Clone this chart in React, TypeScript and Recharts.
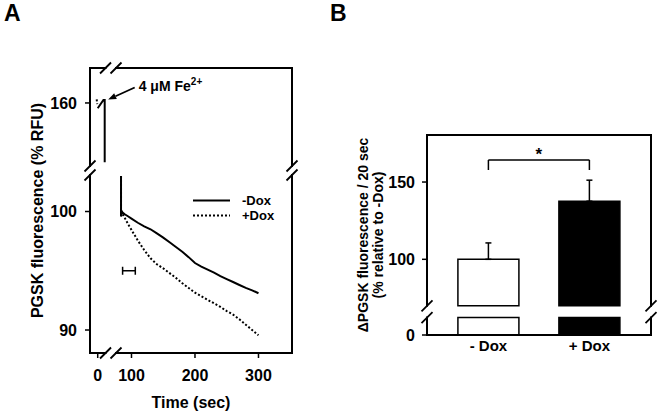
import {
  Bar,
  Cell,
  ComposedChart,
  ErrorBar,
  Legend,
  Line,
  ReferenceDot,
  ReferenceLine,
  Scatter,
  XAxis,
  YAxis,
} from "recharts";

const FONT = '"Liberation Sans", Arial, Helvetica, sans-serif';
const INK = "#000";

// ---------- Panel A: PGSK fluorescence after 4 µM Fe2+ (time in sec, % RFU)
// injection spike, drawn in the upper piece of the broken RFU axis
const injectTime = [0, 9, 11, 11];
const injectMinusDox = [159.55, 160.25, 160.25, 155.0];
const injectPlusTime = [-1.6, -0.8];
const injectPlusDox = [160.3, 159.9];

// start of the recording after the break
const onsetTime = [83.5, 83.5, 84.5];
const onsetRfu = [103.0, 99.6, 100.0];

const traceTime = [86, 90, 95, 100, 110, 120, 130, 140, 150, 160, 170, 180, 190, 200, 210, 220, 230, 240, 250, 260, 270, 280, 290, 300];
const traceMinusDox = [99.9, 99.75, 99.58, 99.4, 99.05, 98.75, 98.5, 98.15, 97.8, 97.4, 97.0, 96.6, 96.15, 95.65, 95.35, 95.1, 94.85, 94.55, 94.3, 94.05, 93.8, 93.55, 93.35, 93.1];
const tracePlusDox = [99.8, 99.4, 98.9, 98.45, 97.55, 96.75, 96.05, 95.55, 95.2, 94.8, 94.4, 93.95, 93.55, 93.15, 92.85, 92.55, 92.25, 91.95, 91.6, 91.3, 90.9, 90.45, 90.0, 89.55];

// the 20 sec window used for panel B
const windowStart = 86;
const windowEnd = 106;
const windowRfu = 95;

const aTimeTicks = [0, 100, 200, 300];
const aRfuTicks = [90, 100, 160];
const aSeries = ["-Dox", "+Dox"];

// ---------- Panel B: ΔPGSK fluorescence / 20 sec
const bCategories = ["- Dox", "+ Dox"];
const bMeans = [100, 137.6];
const bSems = [10.6, 13.6];
const bTicks = [0, 100, 150];
const bSignifFoot = 157.8;
const bSignifTop = 164.3;

// broken axes: values past a break are shifted to sit next to the other piece
const A_T_SHIFT = 46.8;
const A_RFU_SHIFT = 50.84;
const aT = (t: number) => (t < 40 ? t + A_T_SHIFT : t);
const aR = (v: number) => (v > 130 ? v - A_RFU_SHIFT : v);
const A_XDOM: [number, number] = [34.65, 352.8];
const A_YDOM: [number, number] = [88.06, 112.11];
const A_XGAP: [number, number] = [59.1, 75.6];
const A_YGAP: [number, number] = [103.08, 103.84];

const B_SHIFT = 51.03;
const bY = (v: number) => (v > 60 ? v - B_SHIFT : v);
const B_XDOM: [number, number] = [0.392, 2.61];
const B_YDOM: [number, number] = [0, 129.4];
const B_YGAP: [number, number] = [11.3, 18.9];
const bFill = ["#ffffff", "#000000"];

const pts = (xs: number[], ys: number[]) => xs.map((x, i) => ({ x: aT(x), y: aR(ys[i]) }));
const minusUpper = pts(injectTime, injectMinusDox);
const plusUpper = pts(injectPlusTime, injectPlusDox);
const minusLower = [...pts(onsetTime, onsetRfu), ...pts(traceTime, traceMinusDox)];
const plusLower = [...pts(onsetTime, onsetRfu), ...pts(traceTime, tracePlusDox)];
const windowMark = [{ x: (windowStart + windowEnd) / 2, y: windowRfu, err: (windowEnd - windowStart) / 2 }];

const bRows = bCategories.map((name, i) => ({
  x: i + 1,
  name,
  low: B_YGAP[0],
  gap: B_YGAP[1] - B_YGAP[0],
  high: bY(bMeans[i]) - B_YGAP[1],
  err: [0, bSems[i]],
}));

type Seg = [number, number, number, number];

// box frame, split where an axis is broken
function frame(xd: number[], yd: number[], xGap?: number[], yGap?: number[]): Seg[] {
  const segs: Seg[] = [];
  for (const y of yd) {
    if (xGap) {
      segs.push([xd[0], y, xGap[0], y], [xGap[1], y, xd[1], y]);
    } else segs.push([xd[0], y, xd[1], y]);
  }
  for (const x of xd) {
    if (yGap) {
      segs.push([x, yd[0], x, yGap[0]], [x, yGap[1], x, yd[1]]);
    } else segs.push([x, yd[0], x, yd[1]]);
  }
  return segs;
}

function breakPoints(xd: number[], yd: number[], xGap?: number[], yGap?: number[]) {
  const p: { x: number; y: number }[] = [];
  if (xGap) for (const y of yd) for (const x of xGap) p.push({ x, y });
  if (yGap) for (const x of xd) for (const y of yGap) p.push({ x, y });
  return p;
}

const Slash = (props: any) => (
  <line
    x1={props.cx - 5.5}
    y1={props.cy + 5.5}
    x2={props.cx + 5.5}
    y2={props.cy - 5.5}
    stroke={INK}
    strokeWidth={1.8}
  />
);

function renderFrame(segs: Seg[], breaks: { x: number; y: number }[], key: string) {
  return [
    ...segs.map((s, i) => (
      <ReferenceLine
        key={`${key}-f${i}`}
        segment={[{ x: s[0], y: s[1] }, { x: s[2], y: s[3] }]}
        stroke={INK}
        strokeWidth={2}
        strokeLinecap="square"
        ifOverflow="visible"
      />
    )),
    ...breaks.map((b, i) => (
      <ReferenceDot key={`${key}-b${i}`} x={b.x} y={b.y} r={0} shape={Slash} ifOverflow="visible" />
    )),
  ];
}

// arrow + "4 µM Fe2+" pointing at the top of the injection spike
function FeArrow(props: any) {
  const { cx, cy } = props;
  const tip = { x: cx + 3.5, y: cy - 0.5 };
  const tail = { x: cx + 30, y: cy - 12.5 };
  const len = Math.hypot(tip.x - tail.x, tip.y - tail.y);
  const ux = (tip.x - tail.x) / len;
  const uy = (tip.y - tail.y) / len;
  const bx = tip.x - ux * 8;
  const by = tip.y - uy * 8;
  return (
    <g>
      <line x1={tail.x} y1={tail.y} x2={bx} y2={by} stroke={INK} strokeWidth={1.8} />
      <polygon
        points={`${tip.x},${tip.y} ${bx - uy * 3.2},${by + ux * 3.2} ${bx + uy * 3.2},${by - ux * 3.2}`}
        fill={INK}
      />
      <text x={cx + 34} y={cy - 8.5} fontFamily={FONT} fontSize={14} fontWeight="bold" fill={INK}>
        4 μM Fe
        <tspan fontSize={10} dy={-6}>2+</tspan>
      </text>
    </g>
  );
}

function SideTitle({ viewBox, lines, inset, step, size }: any) {
  const vb = viewBox ?? { x: 0, y: 0, width: 0, height: 0 };
  const cx = vb.x + inset;
  const cy = vb.y + vb.height / 2;
  return (
    <g>
      {lines.map((s: string, i: number) => (
        <text
          key={s}
          transform={`translate(${cx + i * step},${cy}) rotate(-90)`}
          textAnchor="middle"
          dominantBaseline="central"
          fontFamily={FONT}
          fontSize={size}
          fontWeight="bold"
          fill={INK}
        >
          {s}
        </text>
      ))}
    </g>
  );
}

function BottomTitle({ viewBox, text, drop }: any) {
  const vb = viewBox ?? { x: 0, y: 0, width: 0, height: 0 };
  return (
    <text
      x={vb.x + vb.width / 2}
      y={vb.y + drop}
      textAnchor="middle"
      fontFamily={FONT}
      fontSize={16}
      fontWeight="bold"
      fill={INK}
    >
      {text}
    </text>
  );
}

const traceDash: Record<string, string | undefined> = { "-Dox": undefined, "+Dox": "2 2" };

// legend rows for the two traces only, in the order of aSeries
function TraceLegend({ payload }: any) {
  const names = new Set((payload ?? []).map((p: any) => p.value));
  const rows = aSeries.filter((s) => names.has(s));
  return (
    <div style={{ fontFamily: FONT, fontSize: 13, fontWeight: "bold", color: INK }}>
      {rows.map((name) => (
        <div key={name} style={{ display: "flex", alignItems: "center", height: 15 }}>
          <svg width={37} height={15}>
            <line x1={0} x2={37} y1={7.5} y2={7.5} stroke={INK} strokeWidth={2} strokeDasharray={traceDash[name]} />
          </svg>
          <span style={{ marginLeft: 12, lineHeight: "15px" }}>{name}</span>
        </div>
      ))}
    </div>
  );
}

const tickStyle = { fontSize: 16, fontWeight: "bold", fill: INK, fontFamily: FONT };

function PanelA() {
  return (
    <ComposedChart width={330} height={414} margin={{ top: 68, right: 38, bottom: 1, left: 30 }}>
      <XAxis
        type="number"
        dataKey="x"
        domain={A_XDOM}
        ticks={aTimeTicks.map(aT)}
        tickFormatter={(d: number) => String(Math.round(d < 80 ? d - A_T_SHIFT : d))}
        allowDataOverflow
        axisLine={false}
        tickSize={5}
        tickMargin={12}
        tickLine={{ stroke: INK, strokeWidth: 1.5 }}
        tick={tickStyle}
        height={60}
        label={{ content: (p: any) => <BottomTitle viewBox={p.viewBox} text="Time (sec)" drop={55} /> }}
      />
      <YAxis
        type="number"
        domain={A_YDOM}
        ticks={aRfuTicks.map(aR)}
        tickFormatter={(v: number) => String(Math.round(v > 105 ? v + A_RFU_SHIFT : v))}
        allowDataOverflow
        axisLine={false}
        tickSize={5}
        tickMargin={8}
        tickLine={{ stroke: INK, strokeWidth: 1.5 }}
        tick={tickStyle}
        width={60}
        label={{
          content: (p: any) => (
            <SideTitle viewBox={p.viewBox} lines={["PGSK fluorescence (% RFU)"]} inset={7.5} step={0} size={16} />
          ),
        }}
      />
      {renderFrame(frame(A_XDOM, A_YDOM, A_XGAP, A_YGAP), breakPoints(A_XDOM, A_YDOM, A_XGAP, A_YGAP), "a")}
      <Line data={minusLower} dataKey="y" name="-Dox" stroke={INK} strokeWidth={2} dot={false} isAnimationActive={false} />
      <Line
        data={plusLower}
        dataKey="y"
        name="+Dox"
        stroke={INK}
        strokeWidth={2}
        strokeDasharray="2 2"
        dot={false}
        isAnimationActive={false}
      />
      <Line data={minusUpper} dataKey="y" name="spike" stroke={INK} strokeWidth={2} dot={false} legendType="none" isAnimationActive={false} />
      <Line
        data={plusUpper}
        dataKey="y"
        name="spike+"
        stroke={INK}
        strokeWidth={2}
        strokeDasharray="2 2"
        dot={false}
        legendType="none"
        isAnimationActive={false}
      />
      <Scatter data={windowMark} dataKey="y" name="window" shape={() => <g />} legendType="none" isAnimationActive={false}>
        <ErrorBar dataKey="err" direction="x" width={4} stroke={INK} strokeWidth={1.5} />
      </Scatter>
      <ReferenceDot x={aT(11)} y={aR(160.25)} r={0} shape={FeArrow} ifOverflow="visible" />
      <Legend
        layout="vertical"
        align="center"
        verticalAlign="middle"
        content={(p: any) => <TraceLegend payload={p.payload} />}
        wrapperStyle={{ left: 193, top: 192.5, width: 110, height: 30 }}
      />
    </ComposedChart>
  );
}

function PanelB() {
  const top = bY(bSignifTop);
  const foot = bY(bSignifFoot);
  return (
    <ComposedChart data={bRows} width={330} height={414} margin={{ top: 135, right: 9, bottom: 39, left: 27 }}>
      <XAxis
        type="number"
        dataKey="x"
        domain={B_XDOM}
        ticks={[1, 2]}
        tickFormatter={(i: number) => bCategories[i - 1] ?? ""}
        allowDataOverflow
        axisLine={false}
        tickLine={false}
        tickSize={0}
        tickMargin={5}
        tick={{ ...tickStyle, fontSize: 15 }}
        height={40}
      />
      <YAxis
        type="number"
        domain={B_YDOM}
        ticks={bTicks.map(bY)}
        tickFormatter={(v: number) => String(Math.round(v > 20 ? v + B_SHIFT : v))}
        allowDataOverflow
        axisLine={false}
        tickSize={5}
        tickMargin={7}
        tickLine={{ stroke: INK, strokeWidth: 1.5 }}
        tick={tickStyle}
        width={70}
        label={{
          content: (p: any) => (
            <SideTitle
              viewBox={p.viewBox}
              lines={["ΔPGSK fluorescence / 20 sec", "(% relative to -Dox)"]}
              inset={6}
              step={15}
              size={14}
            />
          ),
        }}
      />
      <Bar dataKey="low" stackId="s" barSize={61} stroke={INK} strokeWidth={1.5} isAnimationActive={false}>
        {bRows.map((r, i) => (
          <Cell key={r.name} fill={bFill[i]} />
        ))}
      </Bar>
      <Bar dataKey="gap" stackId="s" barSize={61} fill="none" stroke="none" isAnimationActive={false} />
      <Bar dataKey="high" stackId="s" barSize={61} stroke={INK} strokeWidth={1.5} isAnimationActive={false}>
        {bRows.map((r, i) => (
          <Cell key={r.name} fill={bFill[i]} />
        ))}
        <ErrorBar dataKey="err" width={3} stroke={INK} strokeWidth={1.5} />
      </Bar>
      {renderFrame(frame(B_XDOM, B_YDOM, undefined, B_YGAP), breakPoints(B_XDOM, B_YDOM, undefined, B_YGAP), "b")}
      <ReferenceLine segment={[{ x: 1, y: foot }, { x: 1, y: top }]} stroke={INK} strokeWidth={1.5} ifOverflow="visible" />
      <ReferenceLine segment={[{ x: 1, y: top }, { x: 2, y: top }]} stroke={INK} strokeWidth={1.5} ifOverflow="visible" />
      <ReferenceLine segment={[{ x: 2, y: top }, { x: 2, y: foot }]} stroke={INK} strokeWidth={1.5} ifOverflow="visible" />
      <ReferenceDot
        x={1.5}
        y={top}
        r={0}
        ifOverflow="visible"
        label={{ value: "*", position: "top", offset: 0, fontSize: 17, fontWeight: "bold", fill: INK, fontFamily: FONT }}
      />
    </ComposedChart>
  );
}

export default function App() {
  return (
    <div style={{ position: "absolute", left: 0, top: 0, width: 660, height: 414, background: "#fff", fontFamily: FONT }}>
      <svg width={660} height={414} style={{ position: "absolute", left: 0, top: 0 }}>
        <text x={4} y={21} fontFamily={FONT} fontSize={23} fontWeight="bold" fill={INK}>
          A
        </text>
        <text x={330} y={21} fontFamily={FONT} fontSize={23} fontWeight="bold" fill={INK}>
          B
        </text>
      </svg>
      <div style={{ position: "absolute", left: 0, top: 0 }}>
        <PanelA />
      </div>
      <div style={{ position: "absolute", left: 330, top: 0 }}>
        <PanelB />
      </div>
    </div>
  );
}
